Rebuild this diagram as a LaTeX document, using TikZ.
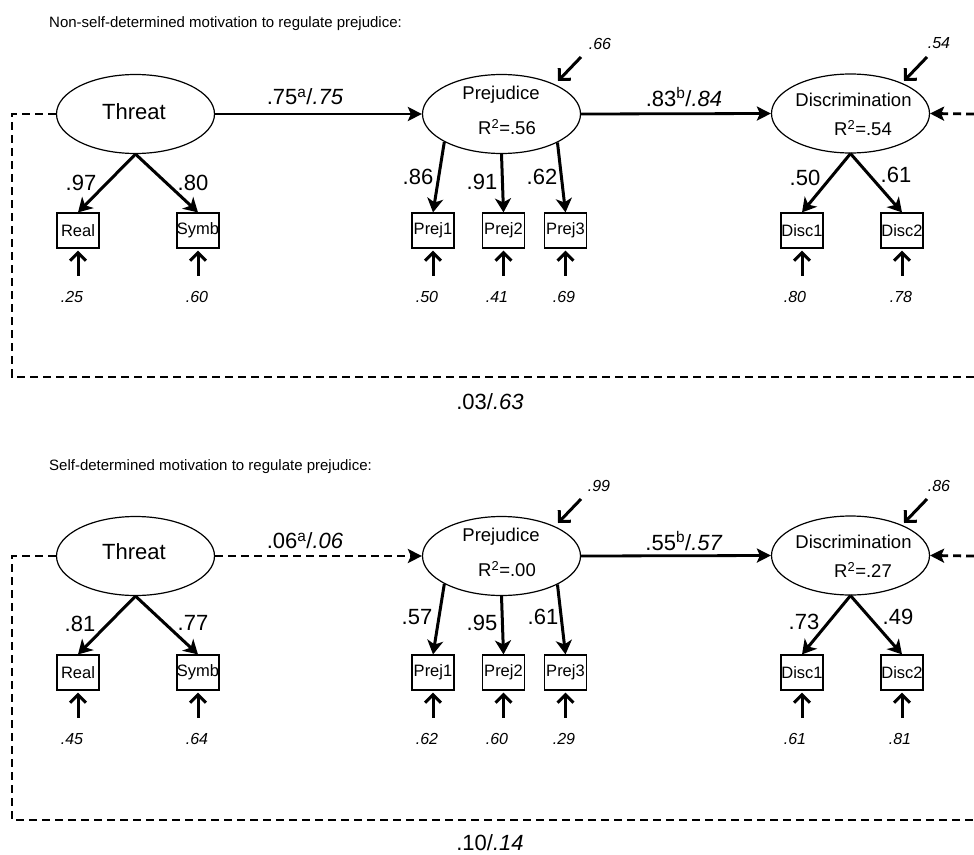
\documentclass[tikz,border=0pt]{standalone}
\usepackage{fontspec}
\setmainfont{Liberation Sans}
\usetikzlibrary{arrows.meta,shapes.geometric}
\tikzset{
 lat/.style={draw, line width=1.2pt, ellipse, minimum width=158pt, minimum height=79pt, inner sep=0pt},
 obs/.style={draw, line width=1.2pt, rectangle, minimum width=42pt, minimum height=35pt, inner sep=0pt, font=\fontsize{16.5}{18}\selectfont},
 mainarr/.style={line width=2.8pt, -{Stealth[length=14pt,width=14pt,inset=3pt]}},
 dasharr/.style={mainarr, dash pattern=on 8pt off 5pt},
 dashline/.style={line width=2.8pt, dash pattern=on 8pt off 5pt},
 loadarr/.style={line width=3pt, -{Stealth[length=14pt,width=16pt,inset=4pt]}},
 errarr/.style={line width=3pt, -{Straight Barb[length=8pt,width=16pt]}},
 coef/.style={font=\fontsize{22}{24}\selectfont, inner sep=0pt},
 errlab/.style={font=\fontsize{16}{18}\selectfont\itshape, inner sep=0pt},
 latlab/.style={font=\fontsize{18.5}{20}\selectfont, inner sep=0pt},
 threatlab/.style={font=\fontsize{22}{24}\selectfont, inner sep=0pt},
 titlelab/.style={font=\fontsize{15}{17}\selectfont, anchor=west, inner sep=0pt},
}
\begin{document}
\begin{tikzpicture}[x=1pt,y=-1pt]
\useasboundingbox (0,0) rectangle (974,854);
% ================= TOP =================
\node[titlelab] (ti1) at (49,24) {Non-self-determined motivation to regulate prejudice:};
\node[lat] (thr1) at (135.5,114) {};
\node[threatlab] (thrt1) at (134,112) {Threat};
\node[lat] (pru1) at (501.5,114) {};
\node[latlab] (prut1) at (501,95) {Prejudice};
\node[latlab] (prur1) at (507,127) {R\textsuperscript{2}=.56};
\node[lat] (dis1) at (850.5,113.5) {};
\node[latlab] (dist1) at (853.5,100) {Discrimination};
\node[latlab] (disr1) at (863,128) {R\textsuperscript{2}=.54};
\node[obs] (real1) at (78,230.5) {Real};
\node[obs] (symb1) at (198,230.5) {Symb};
\node[obs] (pa1) at (433,230.5) {Prej1};
\node[obs] (pb1) at (503.5,230.5) {Prej2};
\node[obs] (pc1) at (565.5,230.5) {Prej3};
\node[obs] (da1) at (802,230.5) {Disc1};
\node[obs] (db1) at (902,230.5) {Disc2};
\draw[mainarr] (thr1.east) -- (pru1.west);
\draw[mainarr] (pru1.east) -- (dis1.west);
\node[coef] (c1ab) at (305,97) {.75\textsuperscript{a}/\textit{.75}};
\node[coef] (c1bc) at (684,97) {.83\textsuperscript{b}/\textit{.84}};
\draw[loadarr] (thr1.south) -- (real1.north);
\draw[loadarr] (thr1.south) -- (symb1.north);
\draw[loadarr] (pru1.206.8) -- (pa1.north);
\draw[loadarr] (pru1.south) -- (pb1.north);
\draw[loadarr] (pru1.333.2) -- (pc1.north);
\draw[loadarr] (dis1.south) -- (da1.north);
\draw[loadarr] (dis1.south) -- (db1.north);
\node[coef] (l1a) at (81,183) {.97};
\node[coef] (l1b) at (193,183) {.80};
\node[coef] (l1c) at (418,177) {.86};
\node[coef] (l1d) at (482,182) {.91};
\node[coef] (l1e) at (542,177) {.62};
\node[coef] (l1f) at (805,178) {.50};
\node[coef] (l1g) at (896,175) {.61};
\foreach \b in {real1,symb1,pa1,pb1,pc1,da1,db1}{
  \draw[errarr] ([yshift=-27pt]\b.south) -- ([yshift=-2pt]\b.south);
}
\node[errlab] (e1a) at (72,297) {.25};
\node[errlab] (e1b) at (197,297) {.60};
\node[errlab] (e1c) at (427,297) {.50};
\node[errlab] (e1d) at (497,297) {.41};
\node[errlab] (e1e) at (564,297) {.69};
\node[errlab] (e1f) at (795,297) {.80};
\node[errlab] (e1g) at (901,297) {.78};
\coordinate (dp1s) at (581,57); \coordinate (dp1e) at (558,81);
\coordinate (dd1s) at (927,57); \coordinate (dd1e) at (904,81);
\draw[errarr] (dp1s) -- (dp1e);
\draw[errarr] (dd1s) -- (dd1e);
\node[errlab] (z1a) at (600,44) {.66};
\node[errlab] (z1b) at (939,43) {.54};
\coordinate (k1a) at (12,114); \coordinate (k1b) at (12,377);
\coordinate (k1c) at (974,377); \coordinate (k1d) at (974,114);
\draw[dashline] (thr1.west) -- (k1a) -- (k1b) -- (k1c);
\draw[dasharr] (k1d) -- (dis1.east);
\node[coef] (tot1) at (490,402) {.03/\textit{.63}};
% ================= BOTTOM =================
\node[titlelab] (ti2) at (49,467) {Self-determined motivation to regulate prejudice:};
\node[lat] (thr2) at (135.5,556) {};
\node[threatlab] (thrt2) at (134,552) {Threat};
\node[lat] (pru2) at (501.5,556) {};
\node[latlab] (prut2) at (501,537) {Prejudice};
\node[latlab] (prur2) at (507,569) {R\textsuperscript{2}=.00};
\node[lat] (dis2) at (850.5,555.5) {};
\node[latlab] (dist2) at (853.5,542) {Discrimination};
\node[latlab] (disr2) at (863,570) {R\textsuperscript{2}=.27};
\node[obs] (real2) at (78,672.5) {Real};
\node[obs] (symb2) at (198,672.5) {Symb};
\node[obs] (pa2) at (433,672.5) {Prej1};
\node[obs] (pb2) at (503.5,672.5) {Prej2};
\node[obs] (pc2) at (565.5,672.5) {Prej3};
\node[obs] (da2) at (802,672.5) {Disc1};
\node[obs] (db2) at (902,672.5) {Disc2};
\draw[dasharr] (thr2.east) -- (pru2.west);
\draw[mainarr] (pru2.east) -- (dis2.west);
\node[coef] (c2ab) at (305,541) {.06\textsuperscript{a}/\textit{.06}};
\node[coef] (c2bc) at (684,541) {.55\textsuperscript{b}/\textit{.57}};
\draw[loadarr] (thr2.south) -- (real2.north);
\draw[loadarr] (thr2.south) -- (symb2.north);
\draw[loadarr] (pru2.206.8) -- (pa2.north);
\draw[loadarr] (pru2.south) -- (pb2.north);
\draw[loadarr] (pru2.333.2) -- (pc2.north);
\draw[loadarr] (dis2.south) -- (da2.north);
\draw[loadarr] (dis2.south) -- (db2.north);
\node[coef] (l2a) at (80,624) {.81};
\node[coef] (l2b) at (193,623) {.77};
\node[coef] (l2c) at (417,617) {.57};
\node[coef] (l2d) at (482,623) {.95};
\node[coef] (l2e) at (543,617) {.61};
\node[coef] (l2f) at (804,622) {.73};
\node[coef] (l2g) at (898,617) {.49};
\foreach \b in {real2,symb2,pa2,pb2,pc2,da2,db2}{
  \draw[errarr] ([yshift=-27pt]\b.south) -- ([yshift=-2pt]\b.south);
}
\node[errlab] (e2a) at (72,739) {.45};
\node[errlab] (e2b) at (197,739) {.64};
\node[errlab] (e2c) at (427,739) {.62};
\node[errlab] (e2d) at (497,739) {.60};
\node[errlab] (e2e) at (564,739) {.29};
\node[errlab] (e2f) at (795,739) {.61};
\node[errlab] (e2g) at (900,739) {.81};
\coordinate (dp2s) at (581,499); \coordinate (dp2e) at (558,523);
\coordinate (dd2s) at (927,499); \coordinate (dd2e) at (904,523);
\draw[errarr] (dp2s) -- (dp2e);
\draw[errarr] (dd2s) -- (dd2e);
\node[errlab] (z2a) at (599,486) {.99};
\node[errlab] (z2b) at (939,486) {.86};
\coordinate (k2a) at (12,556); \coordinate (k2b) at (12,820);
\coordinate (k2c) at (974,820); \coordinate (k2d) at (974,556);
\draw[dashline] (thr2.west) -- (k2a) -- (k2b) -- (k2c);
\draw[dasharr] (k2d) -- (dis2.east);
\node[coef] (tot2) at (490,843) {.10/\textit{.14}};
\end{tikzpicture}
\end{document}
